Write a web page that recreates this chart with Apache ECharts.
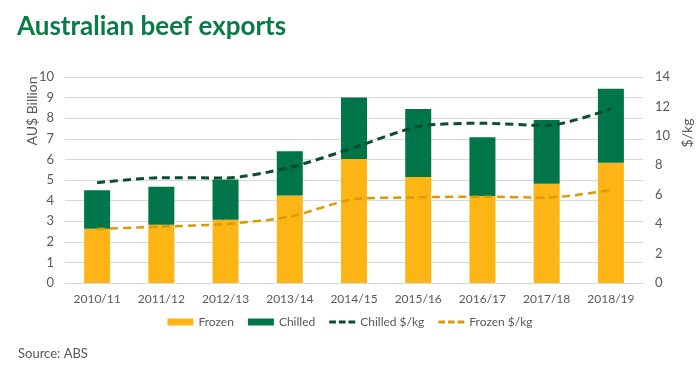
<!DOCTYPE html>
<html><head><meta charset="utf-8">
<script src="https://cdn.jsdelivr.net/npm/echarts@6/dist/echarts.min.js"></script>
<style>html,body{margin:0;padding:0;background:#fff}#c{width:700px;height:373px}</style>
</head><body><div id="c"></div>
<script>
const categories = ['2010/11','2011/12','2012/13','2013/14','2014/15','2015/16','2016/17','2017/18','2018/19'];
const frozen = [2.63, 2.83, 3.07, 4.25, 6.02, 5.15, 4.22, 4.82, 5.84];
const chilled = [1.87, 1.84, 1.96, 2.15, 2.98, 3.30, 2.85, 3.09, 3.59];
const chilledPrice = [6.82, 7.16, 7.14, 7.85, 9.2, 10.63, 10.86, 10.7, 11.83];
const frozenPrice = [3.67, 3.83, 4.01, 4.5, 5.69, 5.82, 5.87, 5.8, 6.32];
const leftTicks = {min: 0, max: 10, interval: 1};
const rightTicks = {min: 0, max: 14, interval: 2};

const FONT = 'Lato, "Open Sans", sans-serif';
const TXT = '#595959';
const DASH_ICON = 'path://M0,0h7v3h-7zM10,0h7v3h-7zM20,0h7v3h-7z';
const chart = echarts.init(document.getElementById('c'), null, {renderer: 'canvas'});
chart.setOption({
  animation: false,
  textStyle: {fontFamily: FONT},
  title: {text: 'Australian beef exports', left: 12, top: 9,
    textStyle: {color: '#0a7a47', fontSize: 26, fontWeight: 'bold', fontFamily: FONT}},
  graphic: [
    {type: 'text', left: 18, top: 347, style: {text: 'Source: ABS', fill: TXT, font: '13px ' + FONT}},
    {type: 'text', x: 32, y: 111, rotation: Math.PI / 2, style: {text: 'AU$ Billion', fill: TXT, font: '14px ' + FONT, textAlign: 'center', textVerticalAlign: 'middle'}},
    {type: 'text', x: 687, y: 133, rotation: Math.PI / 2, style: {text: '$/kg', fill: TXT, font: '14px ' + FONT, textAlign: 'center', textVerticalAlign: 'middle'}}
  ],
  legend: {
    bottom: 40, left: 'center', itemWidth: 26, itemHeight: 7, itemGap: 14,
    textStyle: {color: TXT, fontSize: 12, fontFamily: FONT},
    data: [
      {name: 'Frozen', icon: 'rect'},
      {name: 'Chilled', icon: 'rect'},
      {name: 'Chilled $/kg', icon: DASH_ICON, itemStyle: {color: '#0b4d2c'}},
      {name: 'Frozen $/kg', icon: DASH_ICON, itemStyle: {color: '#d99a06'}}
    ]
  },
  grid: {left: 65, right: 57, top: 77, bottom: 90},
  xAxis: {
    type: 'category', data: categories,
    axisTick: {show: false},
    axisLine: {lineStyle: {color: '#d9d9d9'}},
    axisLabel: {color: TXT, fontSize: 12, margin: 10, fontFamily: FONT}
  },
  yAxis: [
    {type: 'value', min: leftTicks.min, max: leftTicks.max, interval: leftTicks.interval,
     axisLabel: {color: TXT, fontSize: 13, margin: 11, fontFamily: FONT},
     splitLine: {lineStyle: {color: '#d9d9d9'}}, axisLine: {show: false}, axisTick: {show: false}},
    {type: 'value', min: rightTicks.min, max: rightTicks.max, interval: rightTicks.interval,
     axisLabel: {color: TXT, fontSize: 13, margin: 12, fontFamily: FONT},
     splitLine: {show: false}, axisLine: {show: false}, axisTick: {show: false}}
  ],
  series: [
    {name: 'Frozen', type: 'bar', stack: 'v', data: frozen, barWidth: 26, itemStyle: {color: '#fdb515'}},
    {name: 'Chilled', type: 'bar', stack: 'v', data: chilled, barWidth: 26, itemStyle: {color: '#00754a'}},
    {name: 'Chilled $/kg', type: 'line', yAxisIndex: 1, data: chilledPrice, smooth: 0.25, symbol: 'none',
     lineStyle: {color: '#0b4d2c', width: 3, type: [8, 5]}, itemStyle: {color: '#0b4d2c'}},
    {name: 'Frozen $/kg', type: 'line', yAxisIndex: 1, data: frozenPrice, smooth: 0.25, symbol: 'none',
     lineStyle: {color: '#d99a06', width: 2.5, type: [8, 5]}, itemStyle: {color: '#d99a06'}}
  ]
});
</script></body></html>
